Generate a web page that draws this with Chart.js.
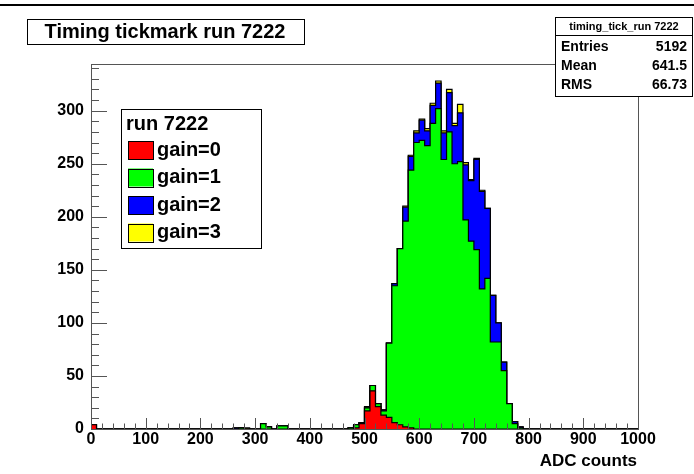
<!DOCTYPE html>
<html>
<head>
<meta charset="utf-8">
<script src="https://cdn.jsdelivr.net/npm/chart.js@4.4.1/dist/chart.umd.min.js"></script>
<style>
  html, body { margin: 0; padding: 0; background: #fff; }
  #wrap { width: 694px; height: 474px; }
</style>
</head>
<body>
<div id="wrap"><canvas id="miGrafico"></canvas></div>
<script>
// histogram: 100 bins of 10 ADC counts, 0..1000
const binWidth = 10;
const gain0 = [
  4, 0, 0, 0, 0, 0, 0, 0, 0, 0,
  0, 0, 0, 0, 0, 0, 0, 0, 0, 0,
  0, 0, 0, 0, 0, 0, 0, 0, 0, 0,
  0, 0, 0, 0, 0, 0, 0, 0, 0, 0,
  0, 0, 0, 0, 0, 0, 0, 0, 1, 5,
  17, 36, 21, 13, 11, 6, 4, 2, 1, 0,
  0, 0, 0, 0, 0, 0, 0, 0, 0, 0,
  0, 0, 0, 0, 0, 0, 0, 0, 0, 0,
  0, 0, 0, 0, 0, 0, 0, 0, 0, 0,
  0, 0, 0, 0, 0, 0, 0, 0, 0, 0
];
const gain1 = [
  0, 0, 0, 0, 0, 0, 0, 0, 0, 0,
  0, 0, 0, 0, 0, 0, 0, 0, 0, 0,
  0, 0, 0, 0, 0, 0, 0, 1, 0, 0,
  0, 5, 2, 0, 3, 3, 0, 0, 0, 0,
  0, 0, 0, 0, 0, 0, 0, 1, 3, 1,
  3, 5, 3, 4, 70, 129, 166, 194, 243, 270,
  272, 267, 288, 302, 254, 280, 250, 252, 197, 177,
  169, 132, 142, 82, 82, 55, 24, 5, 1, 0,
  0, 0, 0, 0, 0, 0, 0, 0, 0, 0,
  0, 0, 0, 0, 0, 0, 0, 0, 0, 0
];
const gain2 = [
  0, 0, 0, 0, 0, 0, 0, 0, 0, 0,
  0, 0, 0, 0, 0, 0, 0, 0, 0, 0,
  0, 0, 0, 0, 0, 0, 1, 0, 0, 0,
  0, 0, 0, 0, 0, 0, 0, 0, 0, 0,
  0, 0, 0, 0, 0, 0, 0, 0, 0, 0,
  0, 0, 0, 1, 0, 2, 0, 13, 13, 9,
  19, 14, 17, 24, 25, 37, 36, 46, 52, 57,
  85, 92, 66, 44, 18, 8, 0, 2, 1, 0,
  0, 0, 0, 0, 0, 0, 0, 0, 0, 0,
  0, 0, 0, 0, 0, 0, 0, 0, 0, 0
];
const gain3 = [
  0, 0, 0, 0, 0, 0, 0, 0, 0, 0,
  0, 0, 0, 0, 0, 0, 0, 0, 0, 0,
  0, 0, 0, 0, 0, 0, 0, 0, 1, 0,
  0, 0, 0, 0, 0, 0, 0, 0, 0, 0,
  0, 0, 0, 0, 0, 0, 0, 0, 0, 0,
  1, 0, 0, 0, 0, 0, 0, 1, 1, 2,
  1, 2, 2, 2, 2, 3, 2, 8, 2, 1,
  1, 1, 0, 0, 0, 0, 0, 0, 0, 0,
  0, 0, 0, 0, 0, 0, 0, 0, 0, 0,
  0, 0, 0, 0, 0, 0, 0, 0, 0, 0
];
const seriesNames = ['gain=0', 'gain=1', 'gain=2', 'gain=3'];
const seriesColors = ['#ff0000', '#00ff00', '#0000ff', '#ffff00'];
const xTicks = [0, 100, 200, 300, 400, 500, 600, 700, 800, 900, 1000];
const yTicks = [0, 50, 100, 150, 200, 250, 300];
const yMax = 344;

const statsRows = [['Entries', '5192'], ['Mean', '641.5'], ['RMS', '66.73']];

const FONT = '"Liberation Sans", Arial, Helvetica, sans-serif';

// cumulative stacks, like THStack draws them
const layers = [gain0, gain1, gain2, gain3];
const cumul = [];
let run = gain0.map(() => 0);
layers.forEach(function (arr) {
  run = run.map((v, i) => v + arr[i]);
  cumul.push(run.slice());
});

// one point per bin low edge, plus the last high edge
function stepPoints(vals) {
  const pts = vals.map((v, i) => ({ x: i * binWidth, y: v }));
  pts.push({ x: vals.length * binWidth, y: vals[vals.length - 1] });
  return pts;
}

const datasets = cumul.map(function (vals, k) {
  return {
    label: seriesNames[k],
    data: stepPoints(vals),
    stepped: 'before',
    borderColor: '#000',
    borderWidth: 1.2,
    backgroundColor: seriesColors[k],
    fill: 'origin',
    pointRadius: 0,
    tension: 0
  };
});

const decor = {
  id: 'decor',
  beforeDraw(chart) {
    const ctx = chart.ctx;
    ctx.save();
    ctx.fillStyle = '#fff';
    ctx.fillRect(0, 0, chart.width, chart.height);
    ctx.restore();
  },
  afterDraw(chart) {
    const ctx = chart.ctx;
    const a = chart.chartArea;
    const xs = chart.scales.x, ys = chart.scales.y;
    ctx.save();

    // top pad line
    ctx.fillStyle = '#000';
    ctx.fillRect(0, 4, chart.width, 2);

    // frame
    ctx.strokeStyle = '#555';
    ctx.lineWidth = 1;
    ctx.strokeRect(Math.round(a.left) + 0.5, Math.round(a.top) + 0.5,
      Math.round(a.right - a.left), Math.round(a.bottom - a.top));

    // ticks inside the frame
    ctx.beginPath();
    for (let v = 0; v <= 1000; v += 20) {
      const px = Math.round(xs.getPixelForValue(v)) + 0.5;
      const len = v % 100 === 0 ? 11 : 5.5;
      ctx.moveTo(px, a.bottom);
      ctx.lineTo(px, a.bottom - len);
    }
    for (let v = 0; v <= yMax; v += 10) {
      const py = Math.round(ys.getPixelForValue(v)) + 0.5;
      const len = v % 50 === 0 ? 16 : 8;
      ctx.moveTo(a.left, py);
      ctx.lineTo(a.left + len, py);
    }
    ctx.stroke();

    // title box
    ctx.fillStyle = '#fff';
    ctx.fillRect(27, 19, 277, 25);
    ctx.strokeStyle = '#000';
    ctx.strokeRect(27.5, 19.5, 277, 25);
    ctx.fillStyle = '#000';
    ctx.font = 'bold 20px ' + FONT;
    ctx.textAlign = 'center';
    ctx.textBaseline = 'middle';
    ctx.fillText('Timing tickmark run 7222', 165, 32);

    // stats box
    ctx.fillStyle = '#fff';
    ctx.fillRect(555, 17, 138, 79);
    ctx.strokeStyle = '#000';
    ctx.strokeRect(555.5, 17.5, 137, 79);
    ctx.beginPath();
    ctx.moveTo(555, 35.5);
    ctx.lineTo(693, 35.5);
    ctx.stroke();
    ctx.fillStyle = '#000';
    ctx.font = 'bold 11px ' + FONT;
    ctx.textAlign = 'center';
    ctx.fillText('timing_tick_run 7222', 624, 27);
    ctx.font = 'bold 14px ' + FONT;
    statsRows.forEach(function (r, i) {
      const y = 47 + i * 19;
      ctx.textAlign = 'left';
      ctx.fillText(r[0], 561, y);
      ctx.textAlign = 'right';
      ctx.fillText(r[1], 687, y);
    });

    // legend box
    ctx.fillStyle = '#fff';
    ctx.fillRect(121, 109, 140, 139);
    ctx.strokeStyle = '#000';
    ctx.strokeRect(121.5, 109.5, 140, 139);
    ctx.fillStyle = '#000';
    ctx.font = 'bold 20px ' + FONT;
    ctx.textAlign = 'left';
    ctx.fillText('run 7222', 126, 124);
    seriesNames.forEach(function (name, i) {
      const cy = 150 + i * 27.5;
      ctx.fillStyle = seriesColors[i];
      ctx.fillRect(128, cy - 9, 25, 18);
      ctx.strokeStyle = '#000';
      ctx.strokeRect(128.5, Math.round(cy - 9) + 0.5, 25, 18);
      ctx.fillStyle = '#000';
      ctx.font = 'bold 20px ' + FONT;
      ctx.fillText(name, 157, cy);
    });

    // axis title
    ctx.font = 'bold 17px ' + FONT;
    ctx.textAlign = 'right';
    ctx.fillText('ADC counts', 637, 461);
    ctx.restore();
  }
};

const ctx = document.getElementById('miGrafico');
const chart = new Chart(ctx, {
  type: 'line',
  data: { datasets: datasets },
  options: {
    responsive: true,
    maintainAspectRatio: false,
    animation: false,
    events: [],
    layout: { padding: { top: 64, right: 56, left: 0, bottom: 0 } },
    scales: {
      x: {
        type: 'linear',
        min: 0,
        max: 1000,
        afterBuildTicks: function (s) { s.ticks = xTicks.map(v => ({ value: v })); },
        afterFit: function (s) { s.height = 45; },
        grid: { display: false, drawTicks: false },
        border: { display: false },
        ticks: { color: '#000', padding: 1, maxRotation: 0, autoSkip: false,
          callback: v => String(v),
          font: { family: FONT, size: 16, weight: 'bold' } }
      },
      y: {
        type: 'linear',
        min: 0,
        max: yMax,
        afterBuildTicks: function (s) { s.ticks = yTicks.map(v => ({ value: v })); },
        afterFit: function (s) { s.width = 91; },
        grid: { display: false, drawTicks: false },
        border: { display: false },
        ticks: { color: '#000', padding: 7,
          callback: v => String(v),
          font: { family: FONT, size: 16, weight: 'bold' } }
      }
    },
    plugins: {
      legend: { display: false },
      tooltip: { enabled: false },
      filler: { propagate: false }
    }
  },
  plugins: [decor]
});
</script>
</body>
</html>
